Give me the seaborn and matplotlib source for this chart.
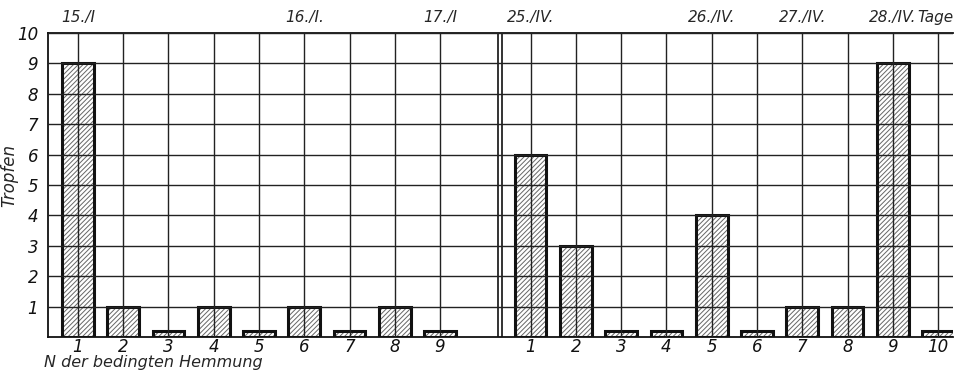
import numpy as np
import pandas as pd
import matplotlib
matplotlib.use("Agg")
import matplotlib.pyplot as plt
import seaborn as sns

# Drops of saliva per trial of conditioned inhibition, two series (January / April)
trials_jan = [1, 2, 3, 4, 5, 6, 7, 8, 9]
drops_jan = [9, 1, 0.2, 1, 0.2, 1, 0.2, 1, 0.2]
trials_apr = [1, 2, 3, 4, 5, 6, 7, 8, 9, 10]
drops_apr = [6, 3, 0.2, 0.2, 4, 0.2, 1, 1, 9, 0.2]

# Day markers written above the trials on which each day begins
days_jan = ["15./I", "16./I.", "17./I"]
days_jan_at = [1, 6, 9]
days_apr = ["25./IV.", "26./IV.", "27./IV.", "28./IV."]
days_apr_at = [1, 5, 7, 9]

y_ticks = [1, 2, 3, 4, 5, 6, 7, 8, 9, 10]

# Place both series on one numeric axis with an empty slot between them
APR_OFFSET = 10
pos_jan = [t - 1 for t in trials_jan]
pos_apr = [t - 1 + APR_OFFSET for t in trials_apr]

df = pd.DataFrame({
    "pos": pos_jan + pos_apr,
    "drops": drops_jan + drops_apr,
    "label": [str(t) for t in trials_jan] + [str(t) for t in trials_apr],
})

sns.set_style("white")
plt.rcParams["font.family"] = ["Liberation Sans Narrow", "DejaVu Sans"]
plt.rcParams["font.style"] = "italic"
plt.rcParams["hatch.linewidth"] = 0.7

fig = plt.figure(figsize=(9.56, 3.71), dpi=100)
ax = fig.add_axes([48 / 956, 34 / 371, 905 / 956, 304 / 371])

# Hatched fill
sns.barplot(data=df, x="pos", y="drops", native_scale=True, width=0.7,
            color="white", edgecolor="#666666", linewidth=0, hatch="///////",
            errorbar=None, ax=ax)
# Heavy outline
sns.barplot(data=df, x="pos", y="drops", native_scale=True, width=0.7,
            fill=False, edgecolor="#111111", linewidth=2.2,
            errorbar=None, ax=ax)

ax.set_xlim(-0.66, 19.33)
ax.set_ylim(0, 10)

ax.set_xticks(df["pos"])
ax.set_xticklabels(df["label"], fontsize=12)
ax.set_yticks(y_ticks)
ax.set_yticklabels([str(v) for v in y_ticks], fontsize=12)
ax.tick_params(axis="both", length=0, colors="#111111")
ax.tick_params(axis="x", pad=1)
ax.tick_params(axis="y", pad=7)

ax.set_axisbelow(False)
ax.grid(True, color="#222222", linewidth=1.0)

for side in ["left", "bottom", "top"]:
    ax.spines[side].set_visible(True)
    ax.spines[side].set_color("#111111")
    ax.spines[side].set_linewidth(1.3)
ax.spines["right"].set_visible(False)

# Double rule separating the two series
ax.axvline(9.28, color="#111111", linewidth=1.2)
ax.axvline(9.37, color="#111111", linewidth=1.2)

ax.set_ylabel("Tropfen", fontsize=12)
ax.yaxis.set_label_coords(-0.033, 0.53)
ax.set_xlabel("N der bedingten Hemmung", fontsize=11.5, loc="left")
ax.xaxis.set_label_coords(-0.004, -0.058)

for txt, t in zip(days_jan, days_jan_at):
    ax.text(t - 1, 10.25, txt, ha="center", va="bottom", fontsize=11,
            clip_on=False)
for txt, t in zip(days_apr, days_apr_at):
    ax.text(t - 1 + APR_OFFSET, 10.25, txt, ha="center", va="bottom",
            fontsize=11, clip_on=False)
ax.text(19.33, 10.25, "Tage", ha="right", va="bottom", fontsize=11,
        clip_on=False)

fig.savefig("out.png", dpi=100, facecolor="white")
